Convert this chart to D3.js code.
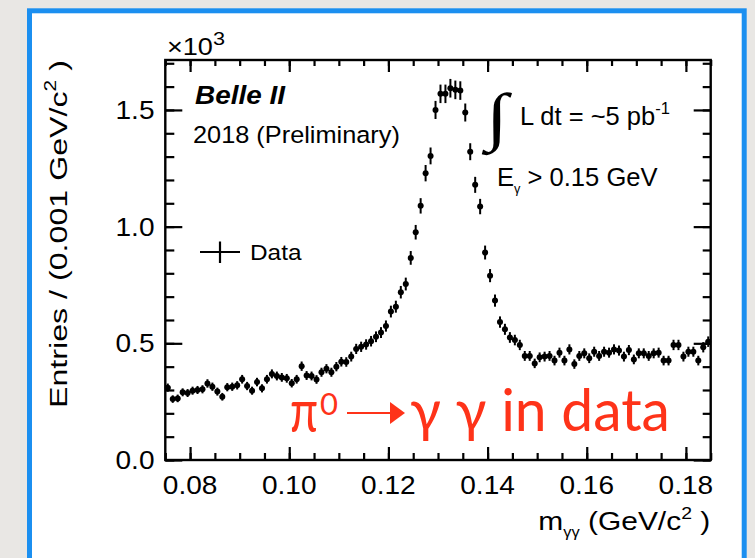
<!DOCTYPE html>
<html><head><meta charset="utf-8">
<script src="https://cdn.jsdelivr.net/npm/d3@7"></script>
<style>html,body{margin:0;padding:0;background:#e9e7e4;overflow:hidden}</style>
</head><body>
<svg id="c" width="755" height="558"></svg>
<script>
// ---- data (histogram: 110 bins of 0.001 GeV/c^2 from 0.075) ----
const binLow = 0.075;
const binWidth = 0.001;
const entries = [
 310,261,264,290,287,297,300,303,328,314,
 293,271,312,314,320,346,317,297,334,307,
 346,369,360,354,350,329,346,402,362,360,
 345,376,391,376,400,421,420,443,476,485,
 495,509,528,546,574,636,657,719,754,866,
 976,1089,1229,1303,1500,1569,1569,1593,1586,1583,
 1489,1321,1179,1086,889,790,683,591,560,525,
 514,493,446,446,414,440,443,446,426,460,
 426,474,411,446,457,436,464,446,464,460,
 474,469,443,471,431,457,457,446,457,460,
 426,426,493,493,443,464,464,426,483,507
];
const xMajorTicks = [0.08, 0.10, 0.12, 0.14, 0.16, 0.18];
const xTickLabels = ["0.08", "0.10", "0.12", "0.14", "0.16", "0.18"];
const yMajorTicks = [0, 500, 1000, 1500];
const yTickLabels = ["0.0", "0.5", "1.0", "1.5"];
const xDomain = [0.075, 0.185];
const yDomain = [0, 1714];

const svg = d3.select('#c');
const FONT = "'Liberation Sans', Arial, Helvetica, sans-serif";

// page + framed slide
svg.append('rect').attr('width', 755).attr('height', 558).attr('fill', '#e9e7e4');
svg.append('rect').attr('x', 29.5).attr('y', 10.8).attr('width', 714.7).attr('height', 570)
  .attr('fill', '#ffffff').attr('stroke', '#1b8ff0').attr('stroke-width', 5);

const x = d3.scaleLinear().domain(xDomain).range([165.3, 710.7]);
const y = d3.scaleLinear().domain(yDomain).range([460, 60]);

const minorX = d3.range(0.075, 0.1851, 0.005);
const minorY = d3.range(0, 1701, 100);

function styleAxis(g) {
  g.select('.domain').remove();
  g.selectAll('.tick line').attr('stroke', '#000').attr('stroke-width', 2.2);
  g.selectAll('.tick text').remove();
}
// bottom
svg.append('g').attr('transform', 'translate(0,460)')
  .call(d3.axisBottom(x).tickValues(minorX).tickSizeInner(-7).tickSizeOuter(0).tickFormat('')).call(styleAxis);
svg.append('g').attr('transform', 'translate(0,460)')
  .call(d3.axisBottom(x).tickValues(xMajorTicks).tickSizeInner(-13).tickSizeOuter(0).tickFormat('')).call(styleAxis);
// top
svg.append('g').attr('transform', 'translate(0,60)')
  .call(d3.axisTop(x).tickValues(minorX).tickSizeInner(-6).tickSizeOuter(0).tickFormat('')).call(styleAxis);
svg.append('g').attr('transform', 'translate(0,60)')
  .call(d3.axisTop(x).tickValues(xMajorTicks).tickSizeInner(-12).tickSizeOuter(0).tickFormat('')).call(styleAxis);
// left
svg.append('g').attr('transform', 'translate(165.3,0)')
  .call(d3.axisLeft(y).tickValues(minorY).tickSizeInner(-9).tickSizeOuter(0).tickFormat('')).call(styleAxis);
svg.append('g').attr('transform', 'translate(165.3,0)')
  .call(d3.axisLeft(y).tickValues(yMajorTicks).tickSizeInner(-17).tickSizeOuter(0).tickFormat('')).call(styleAxis);
// right
svg.append('g').attr('transform', 'translate(710.7,0)')
  .call(d3.axisRight(y).tickValues(minorY).tickSizeInner(-8).tickSizeOuter(0).tickFormat('')).call(styleAxis);
svg.append('g').attr('transform', 'translate(710.7,0)')
  .call(d3.axisRight(y).tickValues(yMajorTicks).tickSizeInner(-17).tickSizeOuter(0).tickFormat('')).call(styleAxis);

// frame
svg.append('rect').attr('x', x(xDomain[0])).attr('y', y(yDomain[1]))
  .attr('width', x(xDomain[1]) - x(xDomain[0])).attr('height', y(yDomain[0]) - y(yDomain[1]))
  .attr('fill', 'none').attr('stroke', '#000').attr('stroke-width', 2.4);

// rich text helper
function rich(parent, px, py, parts, size, opts = {}) {
  const t = parent.append('text').attr('font-family', opts.family || FONT)
    .attr('font-size', size).attr('fill', opts.fill || '#000');
  if (opts.weight) t.attr('font-weight', opts.weight);
  if (opts.style) t.attr('font-style', opts.style);
  let off = 0;
  parts.forEach(([s, kind]) => {
    const ts = t.append('tspan').text(s);
    let target = 0;
    if (kind === 'sup') { ts.attr('font-size', size * (opts.supScale || 0.65)); target = -size * 0.42; }
    if (kind === 'sub') { ts.attr('font-size', size * (opts.subScale || 0.6)); target = size * 0.28; }
    ts.attr('dy', target - off);
    off = target;
  });
  let sx = opts.sx || 1.12;
  if (opts.width) {
    const w = t.node().getBBox().width;
    sx = opts.width / w;
  }
  let ax = px;
  if (opts.anchor === 'end' || opts.anchor === 'middle') {
    const w = t.node().getBBox().width * sx;
    ax = opts.anchor === 'end' ? px - w : px - w / 2;
  }
  t.attr('transform', `translate(${ax},${py}) scale(${sx},1)`);
  return t;
}

// tick labels
xMajorTicks.forEach((v, i) => rich(svg, x(v), 493.5, [[xTickLabels[i], '']], 25.5, { anchor: 'middle', sx: 1.1 }));
yMajorTicks.forEach((v, i) => rich(svg, 154.5, y(v) + 9, [[yTickLabels[i], '']], 25.5, { anchor: 'end', sx: 1.1 }));
rich(svg, 167, 55, [['\u00d710', ''], ['3', 'sup']], 23, { width: 58, supScale: 0.8 });

// axis titles
rich(svg, 538.3, 530, [['m', ''], ['\u03b3\u03b3', 'sub'], [' (GeV/c', ''], ['2', 'sup'], [' )', '']], 25.5, { width: 172, subScale: 0.55 });
const yt = svg.append('g').attr('transform', 'translate(66.5,408) rotate(-90)');
rich(yt, 0, 0, [['Entries / (0.001 GeV/c', ''], ['2', 'sup'], [' )', '']], 24.5, { width: 348 });

// annotations
rich(svg, 195, 103.5, [['Belle II', '']], 25.5, { weight: 'bold', style: 'italic', width: 91 });
rich(svg, 193, 143, [['2018 (Preliminary)', '']], 23.5, { width: 207 });
svg.append('text').attr('transform', 'translate(486,138) scale(1.25,1)').attr('font-family', "'Liberation Serif', 'DejaVu Serif', serif")
  .attr('font-size', 64).text('\u222b');
rich(svg, 520, 124.5, [['L dt = ~5 pb', ''], ['-1', 'sup']], 25, { width: 150 });
rich(svg, 497, 185.5, [['E', ''], ['\u03b3', 'sub'], [' > 0.15 GeV', '']], 25, { width: 161, subScale: 0.5 });

// legend
const lg = svg.append('g');
lg.append('line').attr('x1', 200).attr('x2', 240).attr('y1', 252).attr('y2', 252).attr('stroke', '#000').attr('stroke-width', 2.2);
lg.append('line').attr('x1', 220).attr('x2', 220).attr('y1', 241.5).attr('y2', 263).attr('stroke', '#000').attr('stroke-width', 2.2);
rich(svg, 250, 259.5, [['Data', '']], 22.5, { width: 52 });

// data points
const pts = svg.append('g');
entries.forEach((n, i) => {
  const c = binLow + (i + 0.5) * binWidth;
  const err = Math.sqrt(n);
  pts.append('line').attr('x1', x(c)).attr('x2', x(c)).attr('y1', y(n - err)).attr('y2', y(n + err))
    .attr('stroke', '#000').attr('stroke-width', 2);
  pts.append('line').attr('x1', x(c - binWidth / 2)).attr('x2', x(c + binWidth / 2)).attr('y1', y(n)).attr('y2', y(n))
    .attr('stroke', '#000').attr('stroke-width', 2);
  pts.append('circle').attr('cx', x(c)).attr('cy', y(n)).attr('r', 3).attr('fill', '#000');
});

// red slide annotation
const RED = '#fe3319';
const RF = "Lato, 'Open Sans', sans-serif";
rich(svg, 290, 432, [['\u03c0', '']], 60, { family: RF, fill: RED, width: 28 });
rich(svg, 320, 415, [['0', '']], 31, { family: RF, fill: RED, sx: 1 });
svg.append('line').attr('x1', 347).attr('x2', 392).attr('y1', 413).attr('y2', 413).attr('stroke', RED).attr('stroke-width', 2.2);
svg.append('path').attr('d', 'M390,402 L405,413 L390,424 Z').attr('fill', RED);
rich(svg, 410, 431, [['\u03b3 \u03b3 in data', '']], 58, { family: RF, fill: RED, width: 260 });
</script>
</body></html>
